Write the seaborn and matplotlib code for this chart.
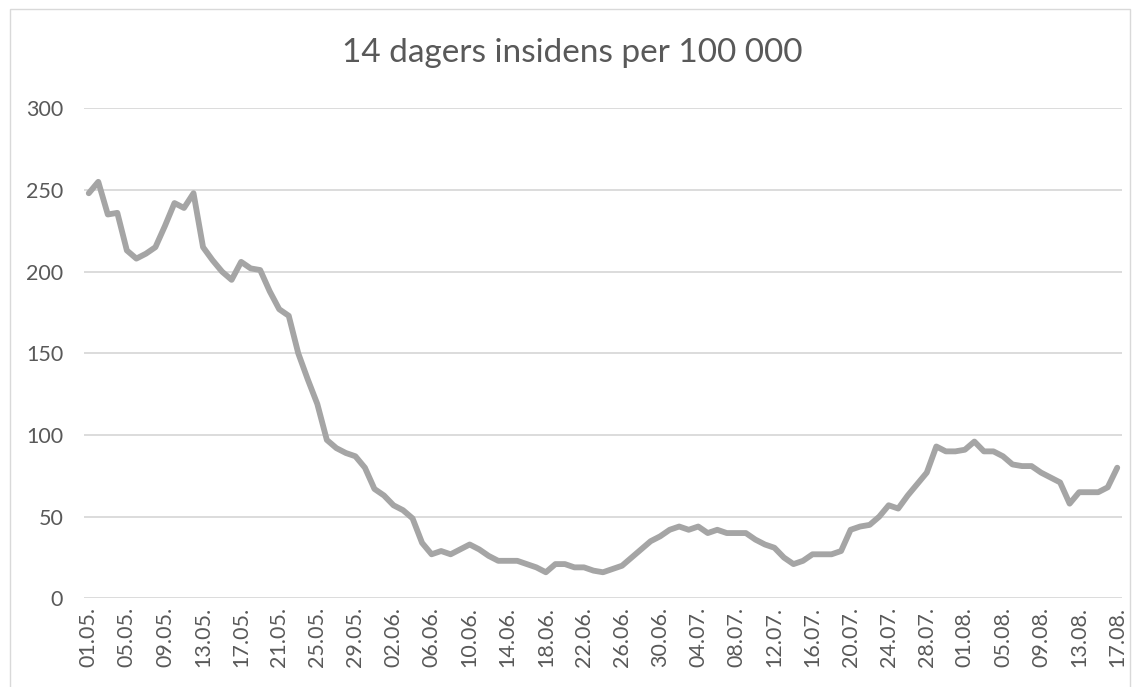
import numpy as np
import pandas as pd
import matplotlib
matplotlib.use("Agg")
import matplotlib.pyplot as plt
import seaborn as sns
from matplotlib.patches import Rectangle

# daglige verdier, 01.05. - 17.08.
datoer = pd.date_range("2021-05-01", "2021-08-17", freq="D")
insidens = [
    248, 255, 235, 236, 213, 208, 211, 215, 228, 242,
    239, 248, 215, 207, 200, 195, 206, 202, 201, 188,
    177, 173, 150, 134, 119, 97, 92, 89, 87, 80,
    67, 63, 57, 54, 49, 34, 27, 29, 27, 30,
    33, 30, 26, 23, 23, 23, 21, 19, 16, 21,
    21, 19, 19, 17, 16, 18, 20, 25, 30, 35,
    38, 42, 44, 42, 44, 40, 42, 40, 40, 40,
    36, 33, 31, 25, 21, 23, 27, 27, 27, 29,
    42, 44, 45, 50, 57, 55, 63, 70, 77, 93,
    90, 90, 91, 96, 90, 90, 87, 82, 81, 81,
    77, 74, 71, 58, 65, 65, 65, 68, 80,
]
tittel = "14 dagers insidens per 100 000"
y_ticks = [0, 50, 100, 150, 200, 250, 300]

df = pd.DataFrame({"dag": np.arange(len(datoer)), "insidens": insidens})
etiketter = [d.strftime("%d.%m.") for d in datoer]

sns.set_style("white")
plt.rcParams["font.family"] = ["Lato", "DejaVu Sans"]

W, H = 1139, 687
fig = plt.figure(figsize=(W / 100, H / 100), dpi=100)
ax = fig.add_axes([84 / W, 1 - 598.4 / H, (1122 - 84) / W, (598.4 - 108.3) / H])

# ramme rundt diagrammet
fig.patches.append(Rectangle((10 / W, -0.1), (1130 - 10) / W, 1.1 - 9 / H,
                             transform=fig.transFigure, fill=False,
                             edgecolor="#D9D9D9", linewidth=1.0))

sns.lineplot(data=df, x="dag", y="insidens", ax=ax, color="#A5A5A5",
             linewidth=4.2, solid_joinstyle="round", solid_capstyle="round")

ax.set_xlim(-0.5, len(datoer) - 0.5)
ax.set_ylim(0, 300)
ax.set_yticks(y_ticks)
ax.set_xticks(df["dag"][::4])
ax.set_xticklabels(etiketter[::4], rotation=90)
ax.tick_params(axis="both", length=0, labelsize=15.5, colors="#595959")
ax.tick_params(axis="y", pad=15)
ax.tick_params(axis="x", pad=6)
ax.grid(axis="y", color="#D9D9D9", linewidth=1.3)
ax.set_axisbelow(True)
for s in ax.spines.values():
    s.set_visible(False)
ax.set_xlabel("")
ax.set_ylabel("")

fig.text(572 / W, 1 - 53 / H, tittel, ha="center", va="center",
         fontsize=24, color="#595959")

fig.savefig("out.png", dpi=100)
